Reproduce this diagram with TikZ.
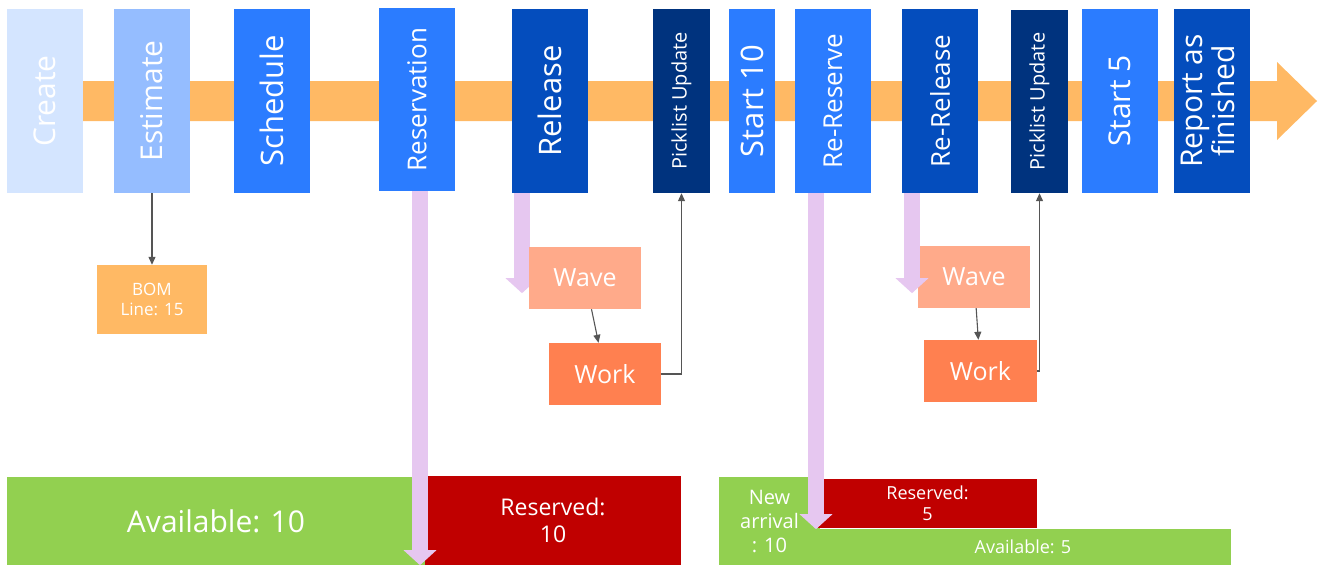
\documentclass[tikz,border=0pt]{standalone}
\usepackage{fontspec}
\setmainfont{Open Sans}
\usetikzlibrary{arrows.meta}
\definecolor{paleblue}{HTML}{D4E5FF}
\definecolor{skyblue}{HTML}{95BDFF}
\definecolor{midblue}{HTML}{2B7CFF}
\definecolor{deepblue}{HTML}{044DBD}
\definecolor{navyblue}{HTML}{00337E}
\definecolor{bandorange}{HTML}{FFB964}
\definecolor{lilac}{HTML}{E6C7F0}
\definecolor{wavesalmon}{HTML}{FFAA8A}
\definecolor{workcoral}{HTML}{FF8050}
\definecolor{leafgreen}{HTML}{92D050}
\definecolor{stockred}{HTML}{C00000}
\definecolor{linegray}{HTML}{555555}

\newcommand{\vlabel}[1]{\rotatebox{90}{#1}}

\tikzset{
  fs/.style={font=\fontsize{#1}{#1}\selectfont},
  stage/.style={fill=#1, text=white, inner sep=0pt, minimum width=76pt, minimum height=184pt},
  panel/.style={fill=#1, text=white, inner sep=0pt, align=center},
  flow/.style={draw=linegray, line width=1.1pt, -{Triangle[width=7pt,length=8pt]}},
  fat/.style={draw=lilac, line width=16pt, -{Triangle[width=32pt,length=15pt]}},
}

\begin{document}
\begin{tikzpicture}[x=1pt, y=-1pt]
  \useasboundingbox (0,0) rectangle (1319,565);
  % timeline band
  \fill[bandorange] (45,81) -- (1277,81) -- (1277,62) -- (1317,101) -- (1277,140) -- (1277,121) -- (45,121) -- cycle;

  % order stages
  \node[stage=paleblue, fs=30] (create) at (45,101) {\vlabel{Create}};
  \node[stage=skyblue, fs=30] (estimate) at (152,101) {\vlabel{Estimate}};
  \node[stage=midblue, fs=31] (schedule) at (272,101) {\vlabel{Schedule}};
  \node[stage=midblue, fs=26, minimum height=183pt] (reservation) at (417,99.5) {\vlabel{Reservation}};
  \node[stage=deepblue, fs=31] (release) at (550,101) {\vlabel{Release}};
  \node[stage=navyblue, fs=20, minimum width=57pt] (pick1) at (681.5,101) {\vlabel{Picklist Update}};
  \node[stage=midblue, fs=31, minimum width=46pt] (start10) at (752,101) {\vlabel{Start 10}};
  \node[stage=midblue, fs=26] (rereserve) at (833,101) {\vlabel{Re-Reserve}};
  \node[stage=deepblue, fs=26] (rerelease) at (940,101) {\vlabel{Re-Release}};
  \node[stage=navyblue, fs=20, minimum width=57pt, minimum height=183pt] (pick2) at (1039.5,101.5) {\vlabel{Picklist Update}};
  \node[stage=midblue, fs=30] (start5) at (1120,101) {\vlabel{Start 5}};
  \node[stage=deepblue, font=\fontsize{30}{32}\selectfont] (report) at (1212,101)
    {\vlabel{\begin{tabular}{@{}c@{}}Report as\\finished\end{tabular}}};

  % stock
  \node[panel=leafgreen, fs=30, minimum width=418pt, minimum height=88pt] (avail10) at (216,521) {Available: 10};
  \node[panel=stockred, font=\fontsize{23}{27}\selectfont, minimum width=256pt, minimum height=89pt] (res10) at (553,520.5) {Reserved:\\10};
  \node[panel=leafgreen, font=\fontsize{20}{24}\selectfont, minimum width=101pt, minimum height=88pt] (newarr) at (769.5,521) {New\\arrival\\: 10};
  \node[panel=stockred, font=\fontsize{18}{21}\selectfont, minimum width=219pt, minimum height=49pt] (res5) at (927.5,503.5) {Reserved:\\5};
  \node[panel=leafgreen, fs=18, minimum width=416pt, minimum height=36pt] (avail5) at (1023,547) {Available: 5};

  \node[panel=bandorange, font=\fontsize{17}{20}\selectfont, minimum width=110pt, minimum height=69pt] (bom) at (152,299.5) {BOM\\Line: 15};
  \node[panel=wavesalmon, fs=25, minimum width=112pt, minimum height=62pt] (wave2) at (974,277) {Wave};

  % reservation flow
  \draw[fat] ([xshift=3pt]reservation.south) -- ++(0,374);
  \draw[fat] ([xshift=-28pt]release.south) -- ++(0,100);
  \draw[fat] ([xshift=-17pt]rereserve.south) -- ++(0,336);
  \draw[fat] ([xshift=-28pt]rerelease.south) -- ++(0,100);

  \node[panel=wavesalmon, fs=25, minimum width=112pt, minimum height=62pt] (wave1) at (585,278) {Wave};
  \node[panel=workcoral, fs=25, minimum width=112pt, minimum height=62pt] (work1) at (605,374) {Work};
  \node[panel=workcoral, fs=25, minimum width=113pt, minimum height=62pt] (work2) at (980.5,371) {Work};

  \draw[flow] (estimate) -- (bom);
  \draw[flow] (wave1) -- (work1);
  \draw[flow] (work1.east) -| (pick1.south);
  \draw[flow] (wave2) -- (work2);
  \draw[flow] (work2.east) -| (pick2.south);
\end{tikzpicture}
\end{document}
